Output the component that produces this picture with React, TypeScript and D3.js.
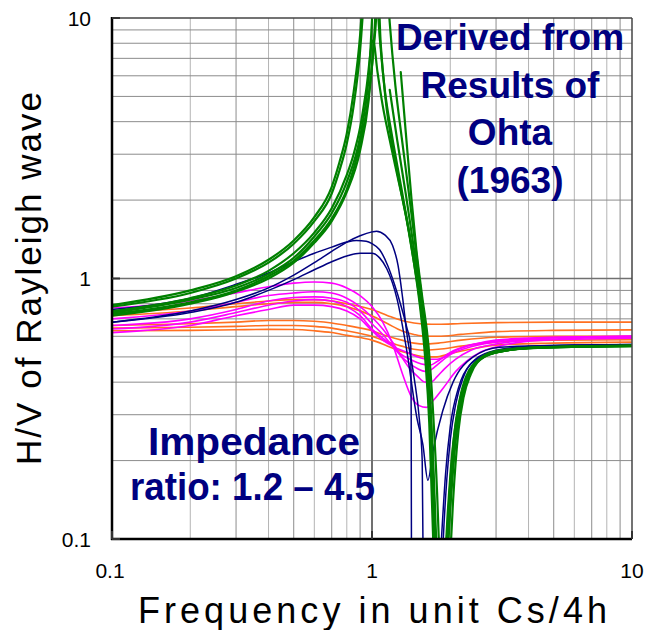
import React from 'react';
import * as d3 from 'd3';

// H/V of Rayleigh wave vs frequency (unit Cs/4h)
// each curve is a list of [frequency, H/V]; null breaks the line
const xTickValues = [0.1, 1, 10];
const xTickLabels = ['0.1', '1', '10'];
const yTickValues = [0.1, 1, 10];
const yTickLabels = ['0.1', '1', '10'];

const noteTop = ['Derived from', 'Results of', 'Ohta', '(1963)'];
const noteBottom = ['Impedance', 'ratio: 1.2 – 4.5'];

type Pt = [number, number] | null;

const greenA: Pt[] = [[0.1,0.79],[0.2,0.9],[0.3,1.02],[0.4,1.18],[0.5,1.4],[0.6,1.72],[0.7,2.25],[0.75,2.8],[0.8,3.6],[0.85,5.2],[0.9,8.6],[0.93,14], null,
  [1.17,5.3],[1.25,3.4],[1.35,2.1],[1.45,1.3],[1.55,0.85],[1.62,0.55],[1.68,0.3],[1.73,0.15],[1.77,0.07],[1.85,0.03],[1.93,0.07],[2.0,0.13],[2.1,0.24],[2.2,0.33],[2.35,0.42],[2.6,0.49],[3,0.52],[4,0.54],[6,0.548],[10,0.55]];
const greenB: Pt[] = [[0.1,0.78],[0.2,0.88],[0.3,1.0],[0.4,1.15],[0.5,1.36],[0.6,1.66],[0.7,2.12],[0.75,2.6],[0.8,3.3],[0.85,4.6],[0.9,7.5],[0.94,14], null,
  [1.29,6.2],[1.35,3.6],[1.42,2.0],[1.48,1.3],[1.56,0.85],[1.65,0.55],[1.72,0.3],[1.78,0.15],[1.83,0.07],[1.9,0.03],[1.98,0.07],[2.05,0.14],[2.15,0.26],[2.25,0.35],[2.4,0.43],[2.7,0.5],[3.2,0.53],[4.5,0.545],[10,0.553]];
const greenC: Pt[] = [[0.1,0.75],[0.2,0.84],[0.3,0.94],[0.4,1.07],[0.5,1.25],[0.6,1.5],[0.7,1.86],[0.8,2.5],[0.85,3.0],[0.9,3.8],[0.95,5.3],[1.01,8.2],[1.05,6.2],[1.1,4.6],[1.17,3.4],[1.25,2.5],[1.35,1.75],[1.43,1.25],[1.52,0.85],[1.6,0.55],[1.66,0.32],[1.71,0.17],[1.75,0.08],[1.8,0.03],[1.88,0.06],[1.95,0.12],[2.05,0.23],[2.15,0.32],[2.3,0.41],[2.55,0.48],[3,0.52],[4,0.54],[10,0.552]];
const greenD: Pt[] = [[0.1,0.74],[0.2,0.83],[0.3,0.92],[0.4,1.04],[0.5,1.2],[0.6,1.45],[0.7,1.78],[0.8,2.35],[0.9,3.5],[0.97,5.8],[1.03,14],[1.07,8.5],[1.12,5.3],[1.19,3.6],[1.27,2.5],[1.36,1.7],[1.45,1.15],[1.53,0.78],[1.6,0.5],[1.66,0.28],[1.7,0.14],[1.74,0.07],[1.8,0.03],[1.9,0.07],[1.97,0.13],[2.07,0.25],[2.17,0.34],[2.3,0.42],[2.6,0.49],[3,0.52],[4,0.54],[10,0.55]];
const greenE: Pt[] = [[0.1,0.73],[0.2,0.81],[0.3,0.9],[0.4,1.02],[0.5,1.17],[0.6,1.4],[0.7,1.7],[0.8,2.2],[0.9,3.3],[0.97,5.0],[1.03,9],[1.1,25],[1.17,9.6],[1.23,5.5],[1.3,3.5],[1.38,2.2],[1.46,1.4],[1.54,0.9],[1.62,0.58],[1.68,0.33],[1.73,0.17],[1.78,0.08],[1.84,0.03],[1.92,0.07],[2.0,0.14],[2.1,0.26],[2.2,0.35],[2.35,0.43],[2.65,0.5],[3.1,0.53],[4.5,0.545],[10,0.553]];
const greenF: Pt[] = [[0.1,0.72],[0.2,0.8],[0.3,0.89],[0.4,1.0],[0.5,1.15],[0.6,1.37],[0.7,1.66],[0.8,2.15],[0.9,3.1],[0.97,4.8],[1.02,8.5],[1.05,14],[1.08,8],[1.13,4.8],[1.2,3.2],[1.3,2.1],[1.4,1.45],[1.5,0.98],[1.58,0.65],[1.65,0.38],[1.71,0.19],[1.76,0.09],[1.82,0.03],[1.9,0.07],[1.98,0.13],[2.08,0.25],[2.18,0.34],[2.32,0.42],[2.6,0.49],[3,0.52],[4,0.54],[10,0.551]];

const navyA: Pt[] = [[0.1,0.68],[0.2,0.75],[0.3,0.83],[0.4,0.92],[0.5,1.03],[0.6,1.15],[0.7,1.27],[0.8,1.38],[0.9,1.46],[1.0,1.51],[1.04,1.52],[1.12,1.47],[1.2,1.34],[1.26,1.12],[1.31,0.85],[1.36,0.62],[1.45,0.42],[1.52,0.29],[1.56,0.2],[1.57,0.1],[1.58,0.02],[1.75,0.03],[1.8,0.06],[1.85,0.1],[1.92,0.18],[2.0,0.27],[2.15,0.38],[2.4,0.47],[3,0.525],[4,0.548],[6,0.555],[10,0.558]];
const navyB: Pt[] = [[0.1,0.76],[0.2,0.84],[0.3,0.95],[0.4,1.05],[0.5,1.16],[0.6,1.25],[0.7,1.32],[0.8,1.38],[0.87,1.4],[0.95,1.39],[1.0,1.36],[1.07,1.29],[1.15,1.12],[1.22,0.95],[1.3,0.77],[1.36,0.65],[1.41,0.55],[1.415,0.3],[1.42,0.05],[1.8,0.03],[1.88,0.1],[1.94,0.17],[2.0,0.24],[2.1,0.33],[2.25,0.42],[2.5,0.49],[3,0.53],[4,0.548],[10,0.558]];
const navyC: Pt[] = [[0.1,0.68],[0.2,0.74],[0.3,0.81],[0.4,0.9],[0.5,0.99],[0.6,1.08],[0.7,1.16],[0.8,1.22],[0.9,1.25],[1.0,1.25],[1.07,1.2],[1.14,1.09],[1.25,0.83],[1.36,0.53],[1.49,0.29],[1.57,0.23],[1.64,0.168],[1.72,0.22],[1.87,0.31],[2.05,0.4],[2.45,0.5],[3.1,0.545],[5,0.553],[10,0.556]];

const magentaA: Pt[] = [[0.1,0.77],[0.2,0.82],[0.3,0.88],[0.4,0.93],[0.5,0.96],[0.6,0.97],[0.7,0.96],[0.8,0.92],[0.9,0.86],[1.0,0.78],[1.1,0.68],[1.2,0.56],[1.31,0.43],[1.42,0.35],[1.52,0.325],[1.62,0.32],[1.72,0.34],[1.88,0.38],[2.1,0.44],[2.3,0.48],[2.6,0.52],[3.1,0.55],[4,0.575],[6,0.585],[10,0.59]];
const magentaB: Pt[] = [[0.1,0.7],[0.2,0.75],[0.3,0.81],[0.4,0.86],[0.5,0.88],[0.6,0.89],[0.7,0.88],[0.8,0.84],[0.9,0.78],[1.0,0.71],[1.1,0.64],[1.2,0.57],[1.3,0.5],[1.4,0.45],[1.5,0.42],[1.6,0.4],[1.68,0.4],[1.78,0.42],[1.9,0.45],[2.1,0.49],[2.4,0.53],[3,0.56],[4,0.58],[10,0.595]];
const magentaC: Pt[] = [[0.1,0.66],[0.2,0.7],[0.3,0.76],[0.4,0.82],[0.5,0.845],[0.6,0.85],[0.7,0.84],[0.8,0.81],[0.9,0.75],[1.0,0.67],[1.1,0.61],[1.2,0.55],[1.3,0.5],[1.4,0.47],[1.5,0.45],[1.6,0.44],[1.68,0.445],[1.8,0.47],[2.0,0.51],[2.3,0.54],[3,0.57],[4,0.585],[10,0.6]];
const magentaD: Pt[] = [[0.1,0.64],[0.2,0.68],[0.3,0.74],[0.4,0.79],[0.5,0.82],[0.6,0.83],[0.7,0.82],[0.8,0.78],[0.9,0.72],[1.0,0.64],[1.1,0.59],[1.2,0.55],[1.3,0.51],[1.4,0.49],[1.5,0.475],[1.6,0.467],[1.67,0.465],[1.78,0.48],[2.0,0.52],[2.3,0.55],[3,0.575],[4,0.59],[10,0.6]];
const magentaE: Pt[] = [[0.1,0.62],[0.2,0.66],[0.3,0.72],[0.4,0.76],[0.5,0.79],[0.6,0.79],[0.7,0.78],[0.8,0.75],[0.9,0.7],[1.0,0.63],[1.1,0.58],[1.2,0.55],[1.3,0.53],[1.4,0.515],[1.5,0.5],[1.65,0.49],[1.78,0.49],[1.9,0.5],[2.1,0.53],[2.5,0.56],[3,0.58],[4,0.59],[10,0.6]];

const orangeA: Pt[] = [[0.1,0.74],[0.2,0.77],[0.3,0.8],[0.4,0.82],[0.5,0.83],[0.6,0.83],[0.7,0.82],[0.8,0.8],[1.0,0.76],[1.15,0.72],[1.3,0.69],[1.45,0.675],[1.6,0.668],[1.8,0.667],[2.2,0.672],[3,0.677],[5,0.68],[10,0.68]];
const orangeB: Pt[] = [[0.1,0.72],[0.2,0.75],[0.3,0.78],[0.4,0.8],[0.5,0.81],[0.6,0.81],[0.7,0.8],[0.8,0.78],[1.0,0.72],[1.15,0.67],[1.3,0.63],[1.45,0.61],[1.6,0.6],[1.8,0.6],[2.2,0.61],[3,0.625],[5,0.632],[10,0.635]];
const orangeC: Pt[] = [[0.1,0.66],[0.2,0.67],[0.3,0.68],[0.4,0.69],[0.5,0.69],[0.6,0.685],[0.7,0.675],[0.8,0.66],[1.0,0.63],[1.15,0.6],[1.3,0.58],[1.45,0.565],[1.6,0.56],[1.8,0.565],[2.2,0.58],[3,0.595],[5,0.6],[10,0.6]];
const orangeD: Pt[] = [[0.1,0.645],[0.2,0.65],[0.3,0.655],[0.4,0.66],[0.5,0.66],[0.6,0.655],[0.7,0.645],[0.8,0.63],[1.0,0.6],[1.15,0.57],[1.3,0.55],[1.45,0.535],[1.6,0.53],[1.8,0.535],[2.2,0.55],[3,0.57],[5,0.58],[10,0.582]];
const orangeE: Pt[] = [[0.1,0.63],[0.2,0.632],[0.3,0.636],[0.4,0.638],[0.5,0.637],[0.6,0.63],[0.7,0.62],[0.8,0.605],[1.0,0.58],[1.15,0.55],[1.3,0.525],[1.45,0.51],[1.6,0.5],[1.75,0.5],[2.0,0.515],[2.5,0.54],[3,0.555],[5,0.565],[10,0.57]];

const groups = [
  { color: '#ff7020', width: 1.6, curves: [orangeA, orangeB, orangeC, orangeD, orangeE] },
  { color: '#ff00ff', width: 1.6, curves: [magentaA, magentaB, magentaC, magentaD, magentaE] },
  { color: '#000080', width: 1.5, curves: [navyA, navyB, navyC] },
  { color: '#008000', width: 2.2, curves: [greenA, greenB, greenC, greenD, greenE, greenF] },
];

const W = 653;
const H = 630;
const L = 112, R = 632, T = 18, B = 539;

export default function App() {
  const x = d3.scaleLog().domain([0.1, 10]).range([L, R]);
  const y = d3.scaleLog().domain([0.1, 10]).range([B, T]);

  const line = d3.line<Pt>()
    .defined(d => d !== null)
    .x(d => x((d as [number, number])[0]))
    .y(d => y(Math.max((d as [number, number])[1], 0.001)))
    .curve(d3.curveMonotoneX);

  const minor: number[] = [];
  [0.1, 1].forEach(d => { for (let k = 2; k <= 9; k++) minor.push(d * k); });

  const font = "'Liberation Sans', Arial, sans-serif";

  return (
    <svg width={W} height={H} style={{ position: 'absolute', left: 0, top: 0, background: '#fff' }}>
      <defs>
        <clipPath id="plot"><rect x={L} y={T} width={R - L} height={B - T} /></clipPath>
      </defs>
      <rect x={0} y={0} width={W} height={H} fill="#fff" />
      <g>
        {minor.map((v, i) => (
          <line key={'vx' + i} x1={x(v)} x2={x(v)} y1={T} y2={B} stroke={i % 2 === 0 ? '#b4b4b4' : '#8c8c8c'} strokeWidth={1} />
        ))}
        {minor.map((v, i) => (
          <line key={'hy' + i} x1={L} x2={R} y1={y(v)} y2={y(v)} stroke="#8c8c8c" strokeWidth={1} />
        ))}
        <line x1={x(1)} x2={x(1)} y1={T} y2={B} stroke="#707070" strokeWidth={2} />
        <line x1={L} x2={R} y1={y(1)} y2={y(1)} stroke="#707070" strokeWidth={1.5} />
      </g>
      <g clipPath="url(#plot)">
        {groups.map((g, gi) => g.curves.map((c, ci) => (
          <path key={gi + '-' + ci} d={line(c) || ''} fill="none" stroke={g.color}
            strokeWidth={g.width} strokeLinejoin="round" strokeLinecap="round" />
        )))}
      </g>
      <line x1={L} x2={R} y1={T} y2={T} stroke="#444" strokeWidth={1.5} />
      <line x1={R} x2={R} y1={T} y2={B} stroke="#444" strokeWidth={1.5} />
      <line x1={L} x2={L} y1={T - 1} y2={B + 1} stroke="#000" strokeWidth={2.5} />
      <line x1={L - 1} x2={R} y1={B} y2={B} stroke="#000" strokeWidth={2.5} />
      {yTickValues.map(v => (
        <line key={'yt' + v} x1={L} x2={L + 8} y1={y(v)} y2={y(v)} stroke="#333" strokeWidth={2} />
      ))}
      {xTickValues.map(v => (
        <line key={'xt' + v} x1={x(v)} x2={x(v)} y1={B} y2={B - 8} stroke="#333" strokeWidth={2} />
      ))}
      {yTickValues.map((v, i) => (
        <text key={'yl' + v} x={91} y={y(v) + 7.5} textAnchor="end" fontFamily={font} fontSize="21px" fill="#000">{yTickLabels[i]}</text>
      ))}
      {xTickValues.map((v, i) => (
        <text key={'xl' + v} x={x(v) - (i === 0 ? 2 : 0)} y={578} textAnchor="middle" fontFamily={font} fontSize="21px" fill="#000">{xTickLabels[i]}</text>
      ))}
      <text x={372.5} y={623} fontFamily={font} fontSize="36px"
        textAnchor="middle" textLength={469} lengthAdjust="spacing" fill="#000">Frequency in unit Cs/4h</text>
      <text transform="translate(41,278.5) rotate(-90)" fontFamily={font} fontSize="35px"
        textAnchor="middle" textLength={373} lengthAdjust="spacing" fill="#000">H/V of Rayleigh wave</text>
      {noteTop.map((s, i) => (
        <text key={s} x={510} y={50 + i * 47.7} fontFamily={font} fontWeight="bold" fill="#000080"
          textAnchor="middle" fontSize="37px">{s}</text>
      ))}
      {noteBottom.map((s, i) => (
        <text key={s} x={i === 0 ? 254 : 252.5} y={455 + i * 45} fontFamily={font} fontWeight="bold" fill="#000080"
          textAnchor="middle" fontSize="39px" textLength={i === 0 ? 212 : 245} lengthAdjust="spacingAndGlyphs">{s}</text>
      ))}
    </svg>
  );
}
